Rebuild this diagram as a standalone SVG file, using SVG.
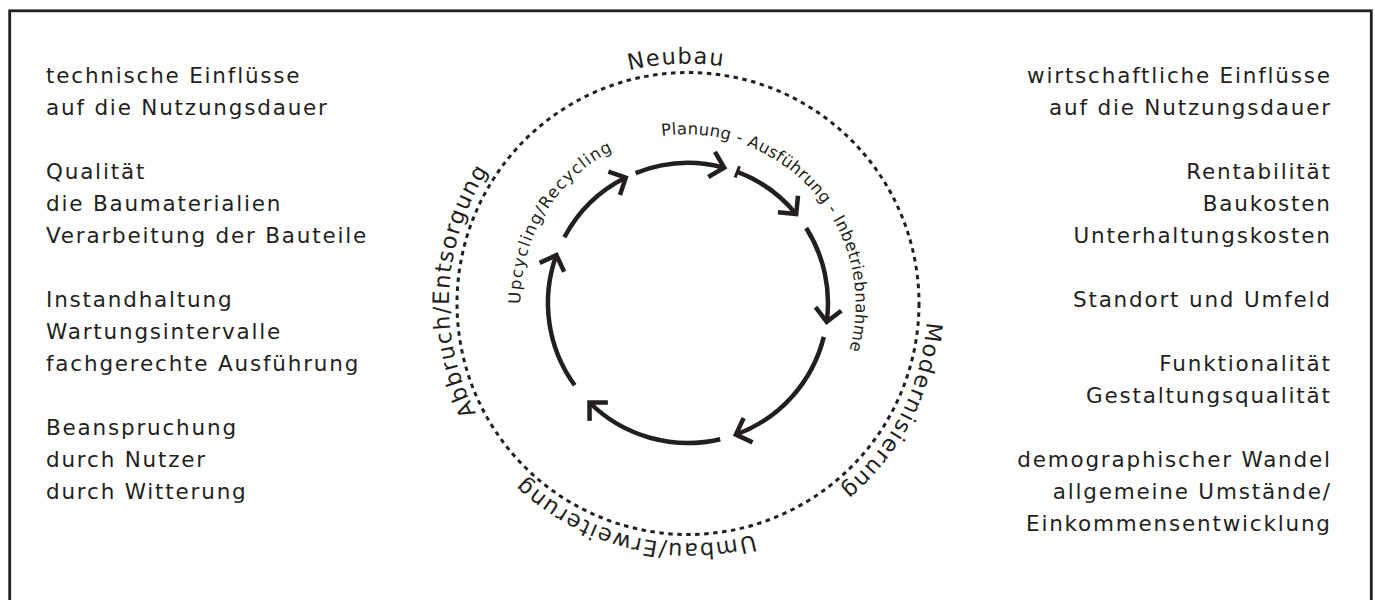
<svg xmlns="http://www.w3.org/2000/svg" xmlns:xlink="http://www.w3.org/1999/xlink" width="1375" height="600" viewBox="0 0 1375 600">
<style>
  .t { font-family: "DejaVu Sans", "Liberation Sans", sans-serif; font-size: 21.5px; fill: #231f20; letter-spacing: 1.8px; }
  .r { text-anchor: end; }
  .ring { font-family: "DejaVu Sans", "Liberation Sans", sans-serif; font-size: 22.5px; fill: #231f20; letter-spacing: 1.4px; }
  .inner { font-family: "DejaVu Sans", "Liberation Sans", sans-serif; font-size: 16.5px; fill: #231f20; letter-spacing: 0.3px; }
  .arc { fill: none; stroke: #231f20; stroke-width: 4.5; }
  .dots { fill: none; stroke: #231f20; stroke-width: 3; stroke-dasharray: 4.5 4.5; }
</style>
<defs>
  <marker id="head" markerUnits="userSpaceOnUse" viewBox="-20 -20 40 40" markerWidth="40" markerHeight="40" refX="0" refY="0" orient="auto" overflow="visible">
    <path d="M-13,-13 L0,0 L-13,13" fill="none" stroke="#231f20" stroke-width="4.5"/>
  </marker>
  <marker id="tick" markerUnits="userSpaceOnUse" viewBox="-10 -10 20 20" markerWidth="20" markerHeight="20" refX="0" refY="0" orient="auto" overflow="visible">
    <path d="M0,-6 L0,6" fill="none" stroke="#231f20" stroke-width="3"/>
  </marker>
  <path id="outerPath" d="M808.5,512.2 A241,241 0 0 1 567.5,94.8 A241,241 0 0 1 808.5,512.2 A241,241 0 0 1 567.5,94.8 A241,241 0 0 1 808.5,512.2"/>
  <path id="innerPath" d="M773,450.2 A170,170 0 0 1 603,155.8 A170,170 0 0 1 773,450.2 A170,170 0 0 1 603,155.8 A170,170 0 0 1 773,450.2"/>
</defs>
<rect width="1375" height="600" fill="#ffffff"/>
<rect id="frame" x="9.7" y="10.8" width="1361.6" height="620" fill="none" stroke="#231f20" stroke-width="2.8"/>

<g id="left-text" class="t">
  <text x="46" y="83">technische Einflüsse</text>
  <text x="46" y="115">auf die Nutzungsdauer</text>
  <text x="46" y="179">Qualität</text>
  <text x="46" y="211">die Baumaterialien</text>
  <text x="46" y="243">Verarbeitung der Bauteile</text>
  <text x="46" y="307">Instandhaltung</text>
  <text x="46" y="339">Wartungsintervalle</text>
  <text x="46" y="371">fachgerechte Ausführung</text>
  <text x="46" y="435">Beanspruchung</text>
  <text x="46" y="467">durch Nutzer</text>
  <text x="46" y="499">durch Witterung</text>
</g>

<g id="right-text" class="t r">
  <text x="1331.8" y="83">wirtschaftliche Einflüsse</text>
  <text x="1331.8" y="115">auf die Nutzungsdauer</text>
  <text x="1331.8" y="179">Rentabilität</text>
  <text x="1331.8" y="211">Baukosten</text>
  <text x="1331.8" y="243">Unterhaltungskosten</text>
  <text x="1331.8" y="307">Standort und Umfeld</text>
  <text x="1331.8" y="371">Funktionalität</text>
  <text x="1331.8" y="403">Gestaltungsqualität</text>
  <text x="1331.8" y="467">demographischer Wandel</text>
  <text x="1331.8" y="499">allgemeine Umstände/</text>
  <text x="1331.8" y="531">Einkommensentwicklung</text>
</g>

<g id="ring">
  <circle class="dots" cx="688" cy="303.5" r="231"/>
</g>

<g id="label-neubau"><text class="ring"><textPath href="#outerPath" startOffset="866.5" text-anchor="middle">Neubau</textPath></text></g>
<g id="label-modernisierung"><text class="ring"><textPath href="#outerPath" startOffset="1271.9">Modernisierung</textPath></text></g>
<g id="label-umbau"><text class="ring"><textPath href="#outerPath" startOffset="58.9">Umbau/Erweiterung</textPath></text></g>
<g id="label-abbruch"><text class="ring"><textPath href="#outerPath" startOffset="386.9">Abbruch/Entsorgung</textPath></text></g>

<g id="label-planung"><text class="inner"><textPath href="#innerPath" startOffset="591">Planung - Ausführung - Inbetriebnahme</textPath></text></g>
<g id="label-upcycling"><text class="inner" style="letter-spacing:1.3px"><textPath href="#innerPath" startOffset="351">Upcycling/Recycling</textPath></text></g>

<g id="connectors">
  <path class="arc" marker-end="url(#head)" d="M564.4,237.3 A140,140 0 0 1 625.8,177.6"/>
  <path class="arc" marker-end="url(#head)" d="M635.6,173.2 A140,140 0 0 1 724.2,167.8"/>
  <path class="arc" marker-start="url(#tick)" marker-end="url(#head)" d="M737.3,171.9 A140,140 0 0 1 796.2,214.1"/>
  <path class="arc" marker-end="url(#head)" d="M806.2,228.0 A140,140 0 0 1 826.7,321.8"/>
  <path class="arc" marker-end="url(#head)" d="M823.8,336.9 A140,140 0 0 1 735.9,434.6"/>
  <path class="arc" marker-end="url(#head)" d="M720.2,439.2 A140,140 0 0 1 589.5,402.5"/>
  <path class="arc" marker-end="url(#head)" d="M574.7,385.3 A140,140 0 0 1 556.4,255.1"/>
</g>
</svg>
